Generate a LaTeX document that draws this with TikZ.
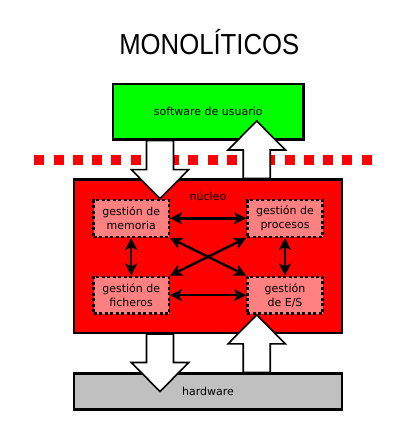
\documentclass[tikz,border=0pt]{standalone}
\usepackage{fontspec}
\setmainfont{DejaVu Sans}
\newfontfamily\titlefont{Liberation Sans}
\usetikzlibrary{arrows.meta,calc,positioning}
\definecolor{modpink}{RGB}{255,128,128}
\definecolor{hwgray}{RGB}{192,192,192}
\tikzset{
    layer-box/.style = {draw=black, line width=2.5pt, rectangle, inner sep=0pt, font=\fontsize{11}{14}\selectfont},
    module-box/.style = {draw=black, fill=modpink, line width=2.5pt, dash pattern=on 3pt off 2.5pt, rectangle, minimum width=75.2pt, minimum height=36.9pt, inner sep=0pt, align=center, font=\fontsize{11}{14}\selectfont},
    link/.style = {line width=2.4pt, >={Stealth[length=12pt,width=12pt,inset=3pt]}, <->},
    fat-arrow/.style = {draw=black, fill=white, line width=1.6pt, line join=miter},
    red-dots/.style = {draw=red, line width=10pt, dash pattern=on 10pt off 9.26pt},
}
\newcommand{\fatarrow}[2]{%
    \coordinate (fa-base) at ($(#2)!29pt!(#1)$);
    \draw[fat-arrow] ($(#1)!13.5pt!90:(#2)$) -- ($(fa-base)!13.5pt!90:(#2)$) -- ($(fa-base)!28.7pt!90:(#2)$) -- (#2)
        -- ($(fa-base)!28.7pt!-90:(#2)$) -- ($(fa-base)!13.5pt!-90:(#2)$) -- ($(#1)!13.5pt!-90:(#2)$) -- cycle;
}
\begin{document}
\begin{tikzpicture}[x=1pt, y=-1pt]
\useasboundingbox (0,0) rectangle (416,427);
\node[anchor=base, font=\titlefont\fontsize{29}{30}\selectfont] (title) at (209.3,54.3) {\scalebox{0.887}[1]{MONOLÍTICOS}};

\node[layer-box, fill=green, minimum width=190.8pt, minimum height=55.5pt] (user) at (208.3,111.7) {software de usuario};
\node[layer-box, fill=red, minimum width=268.1pt, minimum height=153.2pt] (kernel) at (208,256.2) {};
\node[layer-box, fill=hwgray, minimum width=268.1pt, minimum height=35.9pt] (hw) at (208,391.5) {hardware};
\node[font=\fontsize{11}{14}\selectfont] (kernel-label) at ($(kernel.north)+(0,17.4)$) {núcleo};

\draw[red-dots] (34.3,160) -- (372.3,160);

% modulos del nucleo
\node[module-box] (mem) at (131.2,218.3) {gestión de\\memoria};
\node[module-box] (proc) at (285,218.3) {gestión de\\procesos};
\node[module-box] (fich) at (131.2,295.2) {gestión de\\ficheros};
\node[module-box] (es) at (285,295.2) {gestión\\de E/S};

\draw[link] (mem.east) -- (proc.west);
\draw[link] (fich.east) -- (es.west);
\draw[link] (mem.south) -- (fich.north);
\draw[link] (proc.south) -- (es.north);
\draw[link] (mem.south east) -- (es.north west);
\draw[link] (proc.south west) -- (fich.north east);

% flechas gruesas
\coordinate (col-a) at (160,0);
\coordinate (col-b) at (256.7,0);
\coordinate (user-in) at (256.7,121);
\fatarrow{user.south -| col-a}{mem.north -| col-a}
\fatarrow{kernel.north -| col-b}{user-in}
\fatarrow{kernel.south -| col-a}{hw.center -| col-a}
\fatarrow{hw.north -| col-b}{es.south -| col-b}
\end{tikzpicture}
\end{document}
